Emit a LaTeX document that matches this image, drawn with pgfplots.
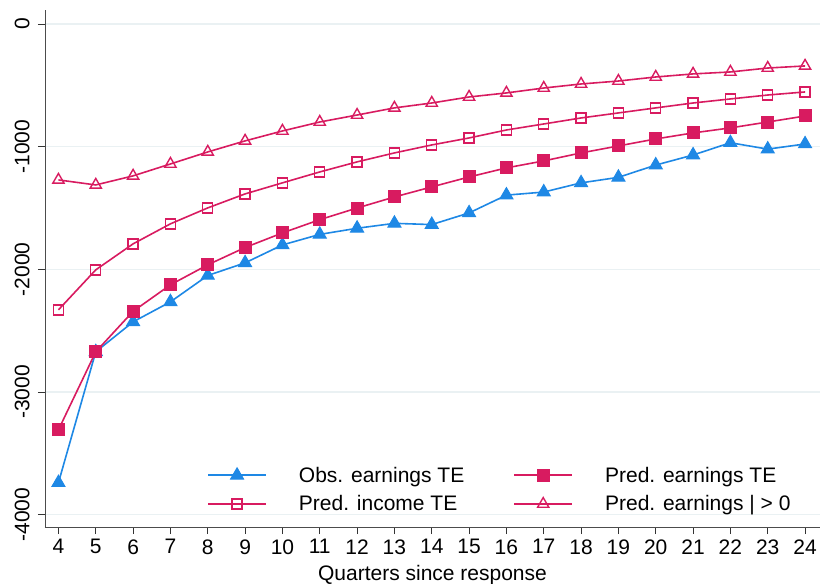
\documentclass[border=0pt]{standalone}
\usepackage{fontspec}
\setmainfont{Liberation Sans}
\usepackage{pgfplots}
\pgfplotsset{compat=1.18}
\definecolor{cblue}{HTML}{1E88E5}
\definecolor{cpink}{HTML}{D81B60}
\definecolor{gridc}{HTML}{EAF1F3}
\begin{document}
\begin{tikzpicture}[font=\fontsize{21bp}{25bp}\selectfont]
\begin{axis}[
  scale only axis,
  width=775bp, height=517bp,
  xmin=3.64, xmax=24.4,
  ymin=-4100, ymax=114,
  axis x line*=bottom, axis y line*=left,
  axis line style={black!70, line width=1pt},
  xtick={4,...,24},
  ytick={-4000,-3000,-2000,-1000,0},
  yticklabels={-4000,-3000,-2000,-1000,0},
  tick align=outside,
  major tick length=7bp,
  tick style={black!80, line width=0.8pt},
  ymajorgrids,
  grid style={gridc, line width=1.2pt},
  /pgf/number format/assume math mode=true,
  yticklabel style={rotate=90, anchor=south, font=\fontsize{21bp}{25bp}\selectfont},
  yticklabel shift=5bp,
  xticklabel style={font=\fontsize{21bp}{25bp}\selectfont},
  xticklabel shift=2bp,
  xlabel={Quarters since response},
  xlabel style={font=\fontsize{21bp}{25bp}\selectfont, inner sep=0pt, yshift=-7bp},
  legend columns=2,
  legend cell align=left,
  legend style={draw=none, fill=none, inner sep=0pt, at={(0.209,0.024)}, anchor=south west,
    font=\fontsize{21bp}{25bp}\selectfont,
    /tikz/every even column/.append style={column sep=47bp},
    /tikz/every odd column/.append style={column sep=30bp},
    /tikz/row sep=8bp},
  legend image code/.code={
    \draw[line width=1.8bp] (0bp,0bp) -- (58bp,0bp);
    \draw plot coordinates {(29bp,0bp)};
  },
]
\addplot[cblue, line width=1.6bp, mark=triangle*, mark size=7.5bp, mark options={solid, fill=cblue, line width=1bp}] coordinates {
(4,-3739) (5,-2672) (6,-2428) (7,-2265) (8,-2050) (9,-1947) (10,-1801) (11,-1715) (12,-1665) (13,-1625) (14,-1635) (15,-1540) (16,-1395) (17,-1370) (18,-1295) (19,-1250) (20,-1150) (21,-1068) (22,-968) (23,-1020) (24,-978)};
\addlegendentry{Obs. earnings TE}
\addplot[cpink, line width=1.6bp, mark=square*, mark size=6bp, mark options={solid, fill=cpink, line width=1bp}] coordinates {
(4,-3308) (5,-2672) (6,-2342) (7,-2126) (8,-1963) (9,-1822) (10,-1703) (11,-1595) (12,-1500) (13,-1410) (14,-1328) (15,-1247) (16,-1173) (17,-1116) (18,-1051) (19,-994) (20,-937) (21,-888) (22,-847) (23,-799) (24,-750)};
\addlegendentry{Pred. earnings TE}
\addplot[cpink, line width=1.6bp, mark=square, mark size=5bp, mark options={solid, fill=white, line width=1.4bp}] coordinates {
(4,-2330) (5,-2004) (6,-1792) (7,-1629) (8,-1499) (9,-1385) (10,-1295) (11,-1206) (12,-1124) (13,-1051) (14,-986) (15,-929) (16,-864) (17,-815) (18,-766) (19,-725) (20,-684) (21,-644) (22,-611) (23,-579) (24,-554)};
\addlegendentry{Pred. income TE}
\addplot[cpink, line width=1.6bp, mark=triangle, mark size=6.5bp, mark options={solid, fill=white, line width=1.4bp}] coordinates {
(4,-1271) (5,-1312) (6,-1238) (7,-1141) (8,-1043) (9,-953) (10,-872) (11,-799) (12,-742) (13,-684) (14,-644) (15,-595) (16,-562) (17,-522) (18,-489) (19,-465) (20,-432) (21,-407) (22,-391) (23,-359) (24,-342)};
\addlegendentry{Pred. earnings | > 0}
\end{axis}
\pgfresetboundingbox
\path ([xshift=-45bp, yshift=10bp]current axis.north west) rectangle ([yshift=-57bp]current axis.south east);
\end{tikzpicture}
\end{document}
